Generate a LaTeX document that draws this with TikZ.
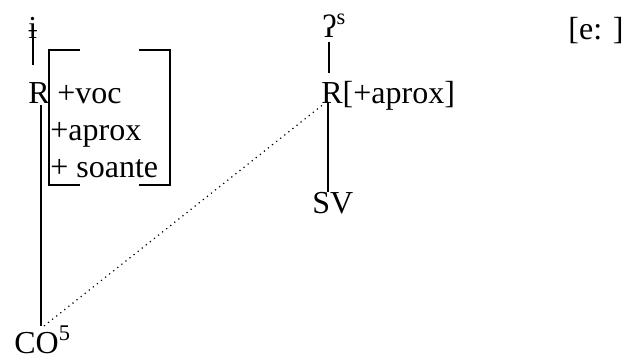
\documentclass[tikz,border=0pt]{standalone}
\usepackage{fontspec}
\setmainfont{Liberation Serif}
\usetikzlibrary{positioning}

\begin{document}
\begin{tikzpicture}[
    x=0.5pt, y=-0.5pt,
    every node/.style={font=\fontsize{16}{18.5}\selectfont},
    lbl/.style={inner sep=0pt, anchor=base west},
    link/.style={line width=1pt},
    dotlink/.style={dotted, line width=0.6pt},
    bracket/.style={line width=1pt}
]
\useasboundingbox (0,0) rectangle (629,360);
% Left column
\node[lbl] (ibar) at (28,38) {ɨ};
\node[lbl] (rleft) at (28,103) {R};
\node[lbl] (voc) at (57,103) {+voc};
\node[lbl] (aprox) at (50,140) {+aprox};
\node[lbl] (soante) at (50,177) {+ soante};
\node[lbl] (co) at (14,353) {CO\textsuperscript{5}};
% Feature bracket
\coordinate (brtl) at (49,50);
\coordinate (brbr) at (170,185);
\draw[bracket] (80,50) -| (brtl |- brbr) -- (80,185);
\draw[bracket] (139,50) -| (brbr) -- (139,185);
% Right column
\node[lbl] (glottal) at (322,37) {ʔ\textsuperscript{s}};
\node[lbl] (rright) at (321,103) {R[+aprox]};
\node[lbl] (sv) at (312,213) {SV};
\node[lbl] (vowel) at (568,39) {[e: ]};
% Association lines
\coordinate (ibarfoot) at (33,37);
\coordinate (rlefthead) at (33,65);
\coordinate (rleftfoot) at (41,105);
\coordinate (cohead) at (41,326);
\coordinate (codot) at (44,326);
\coordinate (rrightdot) at (325,103);
\coordinate (glottalfoot) at (329,42);
\coordinate (rrighthead) at (329,73);
\coordinate (rrightfoot) at (328,103);
\coordinate (svhead) at (328,192);
\draw[link] (ibarfoot) -- (rlefthead);
\draw[link] (rleftfoot) -- (cohead);
\draw[dotlink] (codot) -- (rrightdot);
\draw[link] (glottalfoot) -- (rrighthead);
\draw[link] (rrightfoot) -- (svhead);
\end{tikzpicture}
\end{document}
